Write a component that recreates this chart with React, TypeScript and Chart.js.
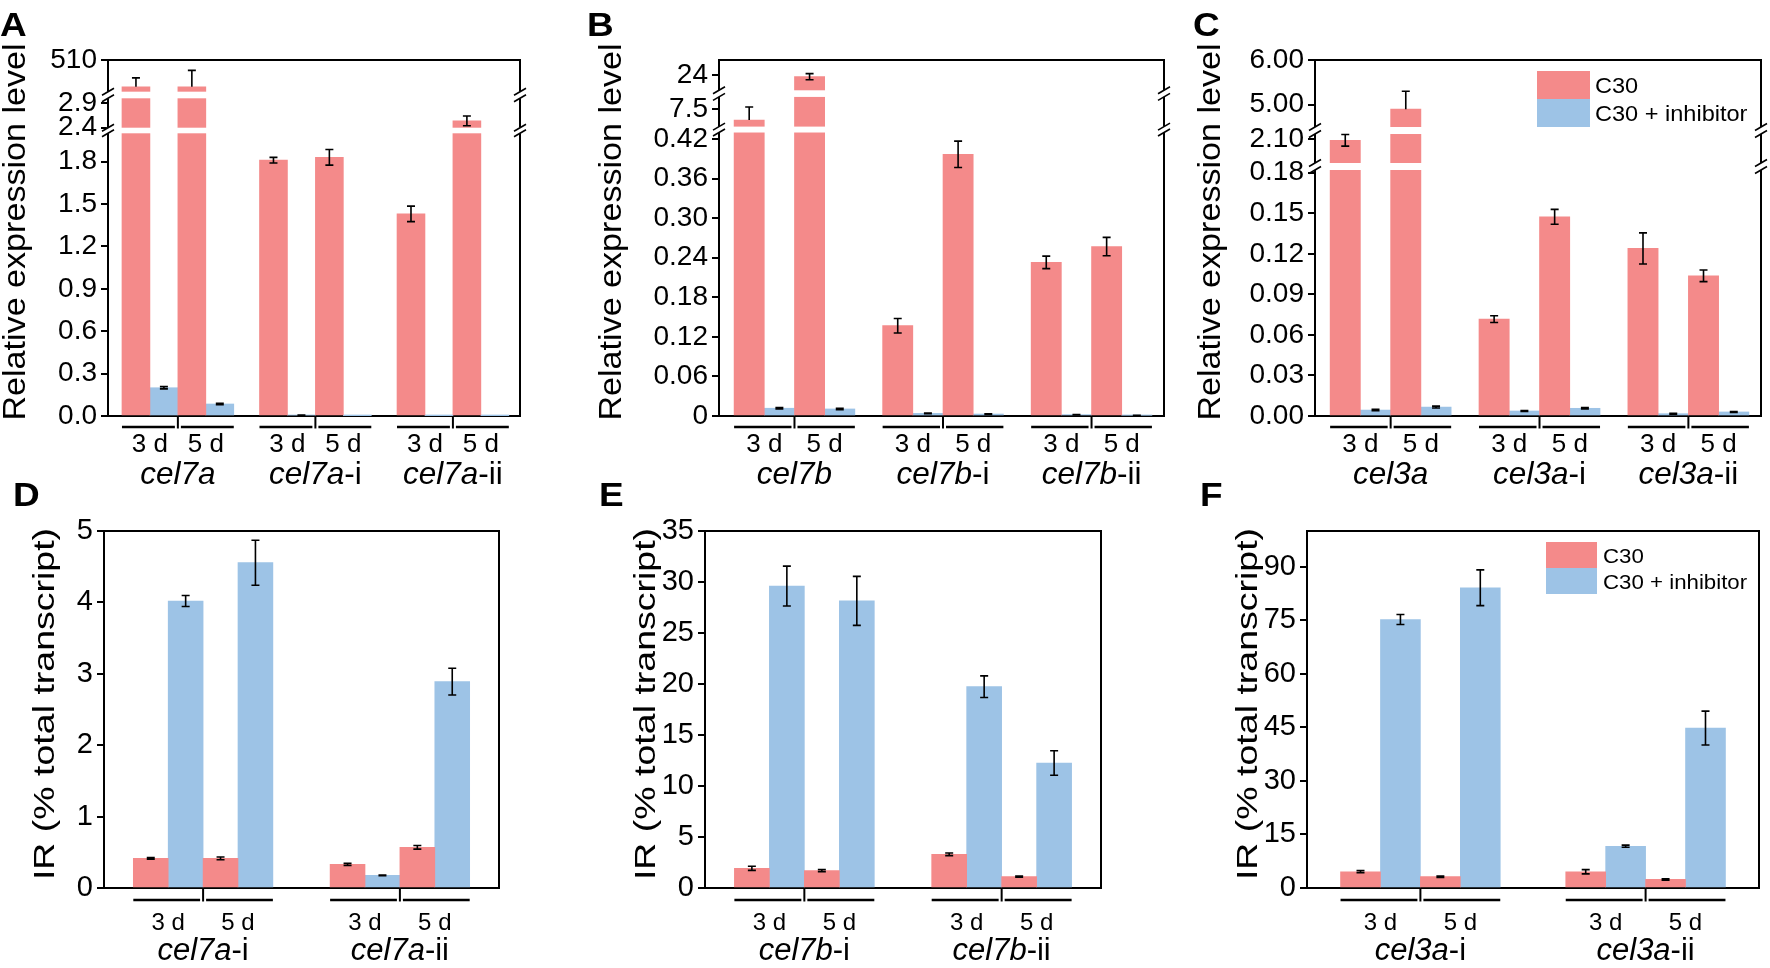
import React, { useEffect, useRef } from 'react';
import { Chart, registerables, LinearScale } from 'chart.js';

Chart.register(...registerables);

const W = 1770;
const H = 968;
const FONT = '"Liberation Sans", Arial, Helvetica, sans-serif';
const RED = '#F48A8A';
const BLUE = '#9DC3E6';
const Y_AXIS_BOX = 100;

// ---------------- data ----------------
const seriesNames = ['C30', 'C30 + inhibitor'];
const days = ['3 d', '5 d'];

// Panel A
const genesA = ['cel7a', 'cel7a-i', 'cel7a-ii'];
const c30A = [290, 290, 1.81, 1.83, 1.43, 2.54];
const c30ErrUpA = [73, 135, 0.02, 0.055, 0.055, 0.1];
const c30ErrDownA = [0, 0, 0.02, 0.055, 0.055, 0.1];
const inhA = [0.2, 0.085, 0.006, 0.002, 0.001, 0.001];
const inhErrA = [0.008, 0.005, 0.001, 0, 0, 0];
const yTicksA = [0, 0.3, 0.6, 0.9, 1.2, 1.5, 1.8, 2.4, 2.9, 510];
const yTickLabelsA = ['0.0', '0.3', '0.6', '0.9', '1.2', '1.5', '1.8', '2.4', '2.9', '510'];
const ySegmentsA = [[0, 2.0], [2.4, 3.0], [250, 510]];

// Panel B
const genesB = ['cel7b', 'cel7b-i', 'cel7b-ii'];
const c30B = [5.6, 23.6, 0.137, 0.397, 0.233, 0.257];
const c30ErrUpB = [2.2, 0.8, 0.011, 0.02, 0.0095, 0.014];
const c30ErrDownB = [0, 0.8, 0.011, 0.02, 0.0095, 0.014];
const inhB = [0.0118, 0.0107, 0.004, 0.003, 0.002, 0.001];
const inhErrB = [0.001, 0.001, 0.0005, 0.0005, 0.0003, 0.0002];
const yTicksB = [0, 0.06, 0.12, 0.18, 0.24, 0.3, 0.36, 0.42, 7.5, 24];
const yTickLabelsB = ['0', '0.06', '0.12', '0.18', '0.24', '0.30', '0.36', '0.42', '7.5', '24'];
const ySegmentsB = [[0, 0.43], [4.5, 9.5], [20, 28]];

// Panel C
const genesC = ['cel3a', 'cel3a-i', 'cel3a-ii'];
const c30C = [2.07, 4.9, 0.0717, 0.1474, 0.124, 0.1037];
const c30ErrUpC = [0.12, 0.4, 0.0025, 0.0055, 0.0115, 0.0043];
const c30ErrDownC = [0.12, 0, 0.0025, 0.0055, 0.0115, 0.0043];
const inhC = [0.0044, 0.0066, 0.0037, 0.0057, 0.0017, 0.003];
const inhErrC = [0.0005, 0.0007, 0.0003, 0.0005, 0.0003, 0.0003];
const yTicksC = [0, 0.03, 0.06, 0.09, 0.12, 0.15, 0.18, 2.1, 5.0, 6.0];
const yTickLabelsC = ['0.00', '0.03', '0.06', '0.09', '0.12', '0.15', '0.18', '2.10', '5.00', '6.00'];
const ySegmentsC = [[0, 0.182], [1.6, 2.2], [4.5, 6.0]];

// Panel D
const genesD = ['cel7a-i', 'cel7a-ii'];
const c30D = [0.415, 0.415, 0.33, 0.57];
const c30ErrD = [0.01, 0.02, 0.015, 0.025];
const inhD = [4.02, 4.556, 0.177, 2.89];
const inhErrD = [0.077, 0.315, 0.005, 0.187];
const yTicksD = [0, 1, 2, 3, 4, 5];
const yMaxD = 5;

// Panel E
const genesE = ['cel7b-i', 'cel7b-ii'];
const c30E = [1.93, 1.7, 3.3, 1.11];
const c30ErrE = [0.2, 0.1, 0.13, 0.05];
const inhE = [29.6, 28.15, 19.74, 12.25];
const inhErrE = [1.96, 2.4, 1.06, 1.2];
const yTicksE = [0, 5, 10, 15, 20, 25, 30, 35];
const yMaxE = 35;

// Panel F
const genesF = ['cel3a-i', 'cel3a-ii'];
const c30F = [4.56, 3.17, 4.56, 2.4];
const c30ErrF = [0.3, 0.2, 0.6, 0.2];
const inhF = [75.2, 84.1, 11.7, 44.8];
const inhErrF = [1.4, 5.0, 0.3, 4.75];
const yTicksF = [0, 15, 30, 45, 60, 75, 90];
const yMaxF = 100;

const titleTop = 'Relative expression level';
const titleBottom = 'IR (% total transcript)';

// ---------------- layout / style ----------------
const TOP = {
  geneGap: 0.46, marginL: 0.25, marginR: 0.2, tickFont: 28,
  dayFont: 26, geneFont: 31.5, lineDy: 11, dayDy: 27, geneDy: 57,
  titleFont: 31, titleSx: 1.1, titleY: 232,
};
const BOTTOM = {
  geneGap: 0.82, marginL: 0.42, marginR: 0.42, tickFont: 29,
  dayFont: 24, geneFont: 31, lineDy: 12, dayDy: 33, geneDy: 61,
  titleFont: 30, titleSx: 1.25, titleY: 704,
};

type Seg = { v0: number; v1: number; f0: number; f1: number };

function valueToFrac(value: number, segs: Seg[]): number {
  const lin = (s: Seg, v: number) => s.f0 + ((v - s.v0) / (s.v1 - s.v0)) * (s.f1 - s.f0);
  if (value <= segs[0].v1) return lin(segs[0], value);
  for (let i = 1; i < segs.length; i++) {
    const p = segs[i - 1];
    const s = segs[i];
    if (value < s.v0) {
      return p.f1 + ((value - p.v1) / (s.v0 - p.v1)) * (s.f0 - p.f1);
    }
    if (value <= s.v1 || i === segs.length - 1) return lin(s, value);
  }
  return 1;
}

function fracToValue(frac: number, segs: Seg[]): number {
  for (let i = 0; i < segs.length; i++) {
    const s = segs[i];
    if (frac <= s.f1 || i === segs.length - 1) {
      return s.v0 + ((frac - s.f0) / (s.f1 - s.f0)) * (s.v1 - s.v0);
    }
  }
  return segs[segs.length - 1].v1;
}

function registerBrokenScale(key: string, segments: number[][], fracs: number[][]): string {
  const scaleId = 'broken' + key;
  const segs: Seg[] = segments.map((v, i) => ({ v0: v[0], v1: v[1], f0: fracs[i][0], f1: fracs[i][1] }));
  class BrokenScale extends (LinearScale as any) {
    static id = scaleId;
    static defaults = {};
    getPixelForValue(value: number) {
      return (this as any).getPixelForDecimal(valueToFrac(value, segs));
    }
    getValueForPixel(pixel: number) {
      return fracToValue((this as any).getDecimalForPixel(pixel), segs);
    }
  }
  Chart.register(BrokenScale as any);
  return scaleId;
}

type PanelDef = {
  key: string;
  genes: string[];
  c30: number[];
  c30Up: number[];
  c30Down: number[];
  inh: number[];
  inhUp: number[];
  inhDown: number[];
  yTicks: number[];
  yTickLabels: string[];
  segments?: number[][];
  segFracs?: number[][];
  yMax: number;
  title: string;
  frame: number[]; // left, right, top, bottom
  titleX: number;
  letter: number[]; // x, baseline
  legend?: { x: number; y: number; w: number; h: number; textX: number; font: number; sx: number };
  L: typeof TOP;
};

const PANELS: PanelDef[] = [
  {
    key: 'A', genes: genesA, c30: c30A, c30Up: c30ErrUpA, c30Down: c30ErrDownA,
    inh: inhA, inhUp: inhErrA, inhDown: inhErrA, yTicks: yTicksA, yTickLabels: yTickLabelsA,
    segments: ySegmentsA, segFracs: [[0, 0.7941], [0.8098, 0.8924], [0.911, 1]],
    yMax: ySegmentsA[2][1], title: titleTop, frame: [108, 520, 60, 416], titleX: 14, letter: [0, 36], L: TOP,
  },
  {
    key: 'B', genes: genesB, c30: c30B, c30Up: c30ErrUpB, c30Down: c30ErrDownB,
    inh: inhB, inhUp: inhErrB, inhDown: inhErrB, yTicks: yTicksB, yTickLabels: yTickLabelsB,
    segments: ySegmentsB, segFracs: [[0, 0.7963], [0.8129, 0.8963], [0.9149, 1]],
    yMax: ySegmentsB[2][1], title: titleTop, frame: [719, 1164, 60, 416], titleX: 610, letter: [587, 36], L: TOP,
  },
  {
    key: 'C', genes: genesC, c30: c30C, c30Up: c30ErrUpC, c30Down: c30ErrDownC,
    inh: inhC, inhUp: inhErrC, inhDown: inhErrC, yTicks: yTicksC, yTickLabels: yTickLabelsC,
    segments: ySegmentsC, segFracs: [[0, 0.691], [0.7107, 0.7921], [0.8118, 1]],
    yMax: ySegmentsC[2][1], title: titleTop, frame: [1315, 1761, 60, 416], titleX: 1209, letter: [1193, 36], L: TOP,
    legend: { x: 1537, y: 71, w: 53, h: 28, textX: 1595, font: 22, sx: 1.07 },
  },
  {
    key: 'D', genes: genesD, c30: c30D, c30Up: c30ErrD, c30Down: c30ErrD,
    inh: inhD, inhUp: inhErrD, inhDown: inhErrD, yTicks: yTicksD, yTickLabels: yTicksD.map(String),
    yMax: yMaxD, title: titleBottom, frame: [104, 499, 531, 888], titleX: 43, letter: [13, 506], L: BOTTOM,
  },
  {
    key: 'E', genes: genesE, c30: c30E, c30Up: c30ErrE, c30Down: c30ErrE,
    inh: inhE, inhUp: inhErrE, inhDown: inhErrE, yTicks: yTicksE, yTickLabels: yTicksE.map(String),
    yMax: yMaxE, title: titleBottom, frame: [705, 1101, 531, 888], titleX: 644, letter: [599, 506], L: BOTTOM,
  },
  {
    key: 'F', genes: genesF, c30: c30F, c30Up: c30ErrF, c30Down: c30ErrF,
    inh: inhF, inhUp: inhErrF, inhDown: inhErrF, yTicks: yTicksF, yTickLabels: yTicksF.map(String),
    yMax: yMaxF, title: titleBottom, frame: [1307, 1759, 531, 888], titleX: 1246, letter: [1200, 506], L: BOTTOM,
    legend: { x: 1546, y: 542, w: 51, h: 26, textX: 1603, font: 21, sx: 1.06 },
  },
];

// ---------------- drawing helpers ----------------
function drawText(
  ctx: CanvasRenderingContext2D, s: string, x: number, y: number, size: number,
  opts: { align?: CanvasTextAlign; weight?: string; style?: string; sx?: number; rot?: number; baseline?: boolean } = {}
) {
  ctx.save();
  ctx.translate(x, y);
  if (opts.rot) ctx.rotate(opts.rot);
  ctx.scale(opts.sx ?? 1, 1);
  ctx.font = `${opts.style ?? 'normal'} ${opts.weight ?? 'normal'} ${size}px ${FONT}`;
  ctx.textAlign = opts.align ?? 'center';
  ctx.textBaseline = 'alphabetic';
  ctx.fillStyle = '#000';
  ctx.fillText(s, 0, opts.baseline ? 0 : 0.358 * size);
  ctx.restore();
}

function drawGene(ctx: CanvasRenderingContext2D, name: string, cx: number, cy: number, size: number) {
  const k = name.indexOf('-');
  const it = k < 0 ? name : name.slice(0, k);
  const rest = k < 0 ? '' : name.slice(k);
  ctx.save();
  const fi = `italic normal ${size}px ${FONT}`;
  const fn = `normal normal ${size}px ${FONT}`;
  ctx.font = fi;
  const w1 = ctx.measureText(it).width;
  ctx.font = fn;
  const w2 = ctx.measureText(rest).width;
  const x0 = cx - (w1 + w2) / 2;
  const y = cy + 0.358 * size;
  ctx.textAlign = 'left';
  ctx.textBaseline = 'alphabetic';
  ctx.fillStyle = '#000';
  ctx.font = fi;
  ctx.fillText(it, x0, y);
  ctx.font = fn;
  ctx.fillText(rest, x0 + w1, y);
  ctx.restore();
}

function groupCenters(p: PanelDef): number[] {
  const out: number[] = [];
  for (let g = 0; g < p.genes.length; g++) {
    for (let d = 0; d < days.length; d++) out.push(g * (days.length + p.L.geneGap) + d);
  }
  return out;
}

function makePlugin(p: PanelDef) {
  const L = p.L;
  return {
    id: 'decor' + p.key,
    afterDatasetsDraw(chart: any) {
      const ctx: CanvasRenderingContext2D = chart.ctx;
      const ca = chart.chartArea;
      const ys = chart.scales.y;
      ctx.save();
      ctx.strokeStyle = '#000';
      ctx.lineWidth = 2;
      ctx.lineCap = 'square';
      ctx.beginPath();
      ctx.moveTo(ca.left, ca.top);
      ctx.lineTo(ca.right, ca.top);
      ctx.lineTo(ca.right, ca.bottom);
      ctx.stroke();
      ctx.lineCap = 'butt';

      // axis breaks
      if (p.segFracs) {
        for (let i = 0; i < p.segFracs.length - 1; i++) {
          const yLow = ys.getPixelForDecimal(p.segFracs[i][1]);
          const yHigh = ys.getPixelForDecimal(p.segFracs[i + 1][0]);
          ctx.fillStyle = '#fff';
          ctx.fillRect(ca.left - 1.5, yHigh, ca.right - ca.left + 3, yLow - yHigh);
          ctx.strokeStyle = '#000';
          ctx.lineWidth = 1.6;
          for (const x of [ca.left, ca.right]) {
            for (const y of [yLow, yHigh]) {
              ctx.beginPath();
              ctx.moveTo(x - 6, y + 3.5);
              ctx.lineTo(x + 6, y - 3.5);
              ctx.stroke();
            }
          }
        }
      }

      // error bars
      const errs = [[p.c30Up, p.c30Down], [p.inhUp, p.inhDown]];
      ctx.strokeStyle = '#000';
      ctx.lineWidth = 1.6;
      chart.data.datasets.forEach((ds: any, di: number) => {
        const meta = chart.getDatasetMeta(di);
        meta.data.forEach((bar: any, j: number) => {
          const v = ds.data[j].y;
          const up = errs[di][0][j];
          const dn = errs[di][1][j];
          if (!up && !dn) return;
          const x = bar.x;
          const yT = ys.getPixelForValue(v + up);
          const yB = ys.getPixelForValue(v - dn);
          ctx.beginPath();
          ctx.moveTo(x, yB);
          ctx.lineTo(x, yT);
          if (up) { ctx.moveTo(x - 4, yT); ctx.lineTo(x + 4, yT); }
          if (dn) { ctx.moveTo(x - 4, yB); ctx.lineTo(x + 4, yB); }
          ctx.stroke();
        });
      });
      ctx.restore();
    },
    afterDraw(chart: any) {
      const ctx: CanvasRenderingContext2D = chart.ctx;
      const ca = chart.chartArea;
      const xs = chart.scales.x;
      ctx.save();

      // x grouping decorations
      const centers = groupCenters(p);
      const lineY = ca.bottom + L.lineDy;
      for (let g = 0; g < p.genes.length; g++) {
        const c0 = centers[g * days.length];
        const c1 = centers[g * days.length + days.length - 1];
        const left = xs.getPixelForValue(c0 - 0.5);
        const right = xs.getPixelForValue(c1 + 0.5);
        ctx.strokeStyle = '#000';
        ctx.lineWidth = 2.5;
        for (let d = 0; d < days.length; d++) {
          const c = centers[g * days.length + d];
          const a = d === 0 ? left : xs.getPixelForValue(c - 0.5) + 3;
          const b = d === days.length - 1 ? right : xs.getPixelForValue(c + 0.5) - 3;
          ctx.beginPath();
          ctx.moveTo(a, lineY);
          ctx.lineTo(b, lineY);
          ctx.stroke();
          drawText(ctx, days[d], xs.getPixelForValue(c), ca.bottom + L.dayDy, L.dayFont);
          if (d < days.length - 1) {
            const mid = xs.getPixelForValue(c + 0.5);
            ctx.lineWidth = 2;
            ctx.beginPath();
            ctx.moveTo(mid, ca.bottom);
            ctx.lineTo(mid, lineY + 1.5);
            ctx.stroke();
            ctx.lineWidth = 2.5;
          }
        }
        drawGene(ctx, p.genes[g], (left + right) / 2, ca.bottom + L.geneDy, L.geneFont);
      }

      // y title
      drawText(ctx, p.title, p.titleX, L.titleY, L.titleFont, { rot: -Math.PI / 2, sx: L.titleSx });

      // panel letter
      drawText(ctx, p.key, p.letter[0], p.letter[1], 33, { weight: 'bold', align: 'left', sx: 1.12, baseline: true });

      // legend
      if (p.legend) {
        const lg = p.legend;
        chart.data.datasets.forEach((ds: any, i: number) => {
          ctx.fillStyle = ds.backgroundColor;
          ctx.fillRect(lg.x, lg.y + i * lg.h, lg.w, lg.h);
          drawText(ctx, ds.label, lg.textX, lg.y + i * lg.h + lg.h / 2, lg.font, { align: 'left', sx: lg.sx });
        });
      }
      ctx.restore();
    },
  };
}

function buildConfig(p: PanelDef): any {
  const L = p.L;
  const centers = groupCenters(p);
  const [fl, fr, ft, fb] = p.frame;
  const yType = p.segments ? registerBrokenScale(p.key, p.segments, p.segFracs as number[][]) : 'linear';
  const xMin = -0.5 - L.marginL;
  const xMax = centers[centers.length - 1] + 0.5 + L.marginR;
  return {
    type: 'bar',
    data: {
      datasets: [
        {
          label: seriesNames[0],
          data: centers.map((x, i) => ({ x, y: p.c30[i] })),
          backgroundColor: RED, borderWidth: 0, categoryPercentage: 1, barPercentage: 1,
        },
        {
          label: seriesNames[1],
          data: centers.map((x, i) => ({ x, y: p.inh[i] })),
          backgroundColor: BLUE, borderWidth: 0, categoryPercentage: 1, barPercentage: 1,
        },
      ],
    },
    options: {
      responsive: false,
      maintainAspectRatio: false,
      animation: false,
      devicePixelRatio: 1,
      events: [],
      layout: { padding: { left: fl - Y_AXIS_BOX, right: W - fr, top: ft, bottom: H - fb } },
      plugins: { legend: { display: false }, tooltip: { enabled: false }, title: { display: false } },
      scales: {
        x: {
          type: 'linear', min: xMin, max: xMax, offset: false,
          afterBuildTicks: (s: any) => { s.ticks = centers.map((v) => ({ value: v })); },
          afterFit: (s: any) => { s.height = 0; },
          ticks: { display: false },
          grid: { display: false },
          border: { display: true, color: '#000', width: 2 },
        },
        y: {
          type: yType, min: 0, max: p.yMax,
          afterBuildTicks: (s: any) => { s.ticks = p.yTicks.map((v) => ({ value: v })); },
          afterFit: (s: any) => { s.width = Y_AXIS_BOX; },
          ticks: {
            display: true, autoSkip: false, color: '#000', padding: 4,
            font: { family: FONT, size: L.tickFont },
            callback: (_v: any, i: number) => p.yTickLabels[i],
          },
          grid: {
            display: true, drawOnChartArea: false, drawTicks: true, tickLength: 7,
            color: '#000', tickColor: '#000', lineWidth: 2, tickWidth: 2,
          },
          border: { display: true, color: '#000', width: 2 },
        },
      },
    },
    plugins: [makePlugin(p)],
  };
}

function PanelChart({ def }: { def: PanelDef }) {
  const ref = useRef<HTMLCanvasElement>(null);
  useEffect(() => {
    const chart = new Chart(ref.current as HTMLCanvasElement, buildConfig(def));
    return () => chart.destroy();
  }, [def]);
  return (
    <canvas
      ref={ref}
      width={W}
      height={H}
      style={{ position: 'absolute', left: 0, top: 0, width: W, height: H }}
    />
  );
}

export default function App() {
  return (
    <div style={{ position: 'absolute', left: 0, top: 0, width: W, height: H, background: '#fff', overflow: 'hidden' }}>
      {PANELS.map((p) => (
        <PanelChart key={p.key} def={p} />
      ))}
    </div>
  );
}
